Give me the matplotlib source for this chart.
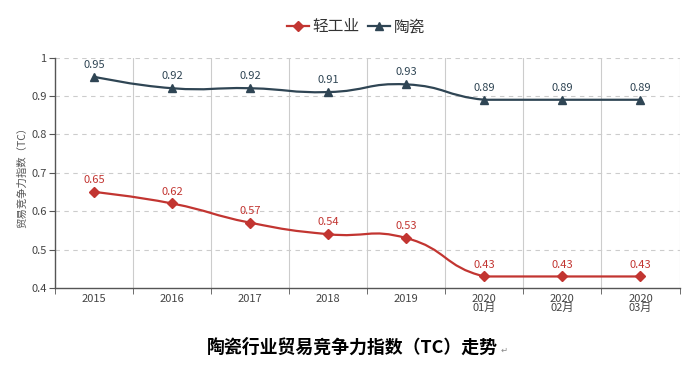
import numpy as np
import matplotlib.pyplot as plt
from matplotlib.path import Path
from matplotlib.patches import PathPatch
from matplotlib.lines import Line2D

plt.rcParams['font.family'] = ['Noto Sans CJK SC', 'DejaVu Sans']

# data
categories = ['2015', '2016', '2017', '2018', '2019', '2020\n01月', '2020\n02月', '2020\n03月']
light_industry = [0.65, 0.62, 0.57, 0.54, 0.53, 0.43, 0.43, 0.43]
ceramics = [0.95, 0.92, 0.92, 0.91, 0.93, 0.89, 0.89, 0.89]
series_names = ['轻工业', '陶瓷']
y_ticks = [0.4, 0.5, 0.6, 0.7, 0.8, 0.9, 1.0]
y_tick_labels = ['0.4', '0.5', '0.6', '0.7', '0.8', '0.9', '1']

RED = '#c23531'
DARK = '#2f4554'
AXIS = '#555555'


def smooth_path(ax, xs, ys, smooth=0.5):
    # echarts-style smoothing: bezier control points from neighbours,
    # clamped to the bounding box of the points
    pts = ax.transData.transform(np.column_stack([xs, ys]))
    lo, hi = pts.min(axis=0), pts.max(axis=0)
    n = len(pts)
    verts = [pts[0]]
    codes = [Path.MOVETO]
    cp1 = pts[0].copy()
    for i in range(1, n):
        p = pts[i]
        prev = pts[i - 1]
        if i == n - 1:
            v = np.zeros(2)
            r = 0.5
            cp0 = p.copy()
        else:
            nxt = pts[i + 1]
            v = nxt - prev
            d0 = np.hypot(*(p - prev))
            d1 = np.hypot(*(nxt - p))
            r = d1 / (d0 + d1)
            cp0 = p - v * smooth * (1 - r)
        cp0 = np.clip(cp0, lo, hi)
        verts += [cp1, cp0, p]
        codes += [Path.CURVE4] * 3
        cp1 = np.clip(p + v * smooth * r, lo, hi)
    verts = ax.transData.inverted().transform(np.array(verts))
    return Path(verts, codes)


fig = plt.figure(figsize=(6.93, 3.73), dpi=100)
ax = fig.add_axes([55 / 693, 1 - 288 / 373, 624.5 / 693, 230.5 / 373])
x = np.arange(len(categories))
ax.set_xlim(-0.5, len(categories) - 0.5)
ax.set_ylim(0.4, 1.0)

# grid
for yv in y_ticks[1:]:
    ax.axhline(yv, color='#cccccc', lw=0.8, ls=(0, (4, 4)), zorder=0)
for xv in np.arange(0.5, len(categories), 1.0):
    ax.axvline(xv, color='#cccccc', lw=0.8, zorder=0)

for ys, color, marker, ms in [(light_industry, RED, 'D', 4.6), (ceramics, DARK, '^', 5.5)]:
    ax.add_patch(PathPatch(smooth_path(ax, x, ys), facecolor='none', edgecolor=color, lw=1.6, zorder=2))
    ax.plot(x, ys, ls='none', marker=marker, ms=ms, color=color, zorder=3)
    for xi, v in zip(x, ys):
        ax.annotate(f'{v:.2f}', (xi, v), xytext=(0, 5), textcoords='offset points',
                    ha='center', va='bottom', fontsize=8, color=color)

# axes
for s in ['top', 'right']:
    ax.spines[s].set_visible(False)
for s in ['left', 'bottom']:
    ax.spines[s].set_color(AXIS)
    ax.spines[s].set_linewidth(1.0)
ax.set_yticks(y_ticks)
ax.set_yticklabels(y_tick_labels)
ax.set_xticks(x)
ax.set_xticklabels(categories, linespacing=0.9)
ax.set_xticks(np.arange(-0.5, len(categories), 1.0), minor=True)
ax.tick_params(axis='x', which='major', length=0, pad=4, labelsize=8, labelcolor='#444444')
ax.tick_params(axis='x', which='minor', length=4, color=AXIS)
ax.tick_params(axis='y', length=4, color=AXIS, labelsize=8, labelcolor='#444444', pad=2)

fig.text(22 / 693, 1 - 175 / 373, '贸易竞争力指数（TC）', rotation=90, ha='center', va='center',
         fontsize=7.5, color='#555555')

handles = [Line2D([], [], color=RED, marker='D', ms=5, lw=1.6),
           Line2D([], [], color=DARK, marker='^', ms=6, lw=1.6)]
fig.legend(handles, series_names, loc='center', bbox_to_anchor=(356 / 693, 1 - 27 / 373), ncol=2,
           frameon=False, fontsize=11.3, handlelength=1.4, columnspacing=0.5, handletextpad=0.25,
           labelcolor='#333333')

fig.text(352 / 693, 1 - 348 / 373, '陶瓷行业贸易竞争力指数（TC）走势', ha='center', va='center',
         fontsize=12.9, fontweight='bold', color='black')
fig.text(504 / 693, 1 - 350 / 373, '↵', ha='center', va='center', fontsize=6, color='#888888')

fig.savefig('out.png', dpi=100)
